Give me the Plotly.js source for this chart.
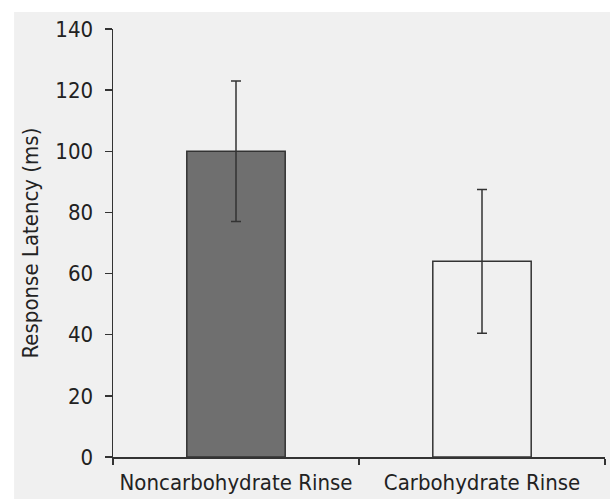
<!DOCTYPE html>
<html>
<head>
<meta charset="utf-8">
<script src="https://cdn.plot.ly/plotly-3.0.1.min.js"></script>
<style>html,body{margin:0;padding:0;background:#fff;}#chart{width:610px;height:499px;}</style>
</head>
<body>
<div id="chart"></div>
<script>
const categories = ["Noncarbohydrate Rinse", "Carbohydrate Rinse"];
const latency = [100, 64];
const errorSD = [23, 23.5];
const barColors = ["#6f6f6f", "rgba(0,0,0,0)"];
const yTicks = [0, 20, 40, 60, 80, 100, 120, 140];

const fontFam = '"Liberation Sans Narrow", "DejaVu Sans Condensed", Arial, sans-serif';

const trace = {
  type: "bar",
  x: categories,
  y: latency,
  width: 0.4,
  marker: { color: barColors, line: { color: "#333", width: 1.5 } },
  error_y: { type: "data", array: errorSD, visible: true, color: "#333", thickness: 1.5, width: 5 },
  hoverinfo: "none"
};

const layout = {
  width: 610, height: 499,
  margin: { l: 113, r: 5, t: 29, b: 42 },
  paper_bgcolor: "#ffffff",
  plot_bgcolor: "rgba(0,0,0,0)",
  showlegend: false,
  font: { family: fontFam, color: "#222", size: 21 },
  shapes: [{
    type: "rect", xref: "paper", yref: "paper", layer: "below",
    x0: -0.201, x1: 1.02, y0: -0.12, y1: 1.0397,
    fillcolor: "#f0f0f0", line: { width: 0 }
  }],
  xaxis: {
    type: "category",
    range: [-0.5, 1.5],
    showline: true, linecolor: "#333", linewidth: 1.5,
    ticks: "outside", tickson: "boundaries", ticklen: 6, tickwidth: 1.5, tickcolor: "#333",
    ticklabelstandoff: 5,
    showgrid: false, zeroline: false,
    tickfont: { family: fontFam, size: 22, color: "#222" }
  },
  yaxis: {
    range: [0, 140],
    tickvals: yTicks,
    ticktext: yTicks.map(String),
    showline: true, linecolor: "#333", linewidth: 1.5,
    ticks: "outside", ticklen: 7, tickwidth: 1.5, tickcolor: "#333",
    ticklabelstandoff: 7,
    showgrid: false, zeroline: false,
    tickfont: { family: fontFam, size: 22, color: "#222" },
    title: { text: "Response Latency (ms)", font: { family: fontFam, size: 22, color: "#222" }, standoff: 10 }
  }
};

Plotly.newPlot("chart", [trace], layout, { displayModeBar: false, staticPlot: true });
</script>
</body>
</html>
